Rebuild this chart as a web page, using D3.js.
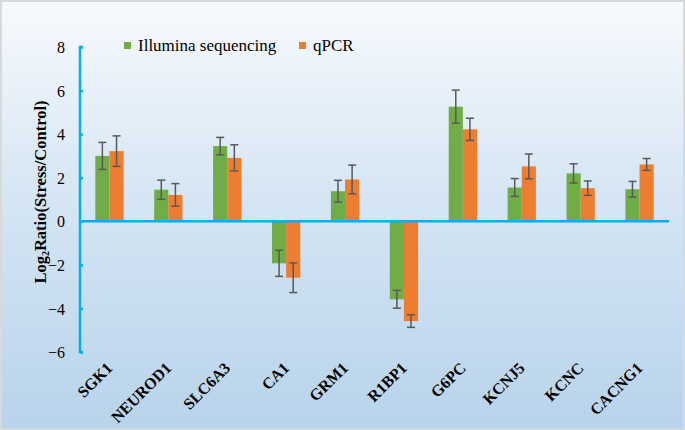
<!DOCTYPE html>
<html><head><meta charset="utf-8">
<script src="https://cdn.jsdelivr.net/npm/d3@7"></script>
<style>html,body{margin:0;padding:0;background:#fff;}</style>
</head><body>
<svg id="c" width="685" height="430"></svg>
<script>
const categories = ["SGK1","NEUROD1","SLC6A3","CA1","GRM1","R1BP1","G6PC","KCNJ5","KCNC","CACNG1"];
const seriesNames = ["Illumina sequencing","qPCR"];
const illumina = [3.0, 1.45, 3.45, -1.93, 1.38, -3.58, 5.26, 1.55, 2.2, 1.47];
const illuminaErr = [0.62, 0.44, 0.4, 0.6, 0.5, 0.41, 0.76, 0.41, 0.44, 0.36];
const qpcr = [3.22, 1.21, 2.91, -2.59, 1.92, -4.58, 4.22, 2.52, 1.52, 2.61];
const qpcrErr = [0.7, 0.52, 0.6, 0.68, 0.66, 0.29, 0.51, 0.57, 0.33, 0.27];
const yTicks = [-6,-4,-2,0,2,4,6,8];

const FONT = "'Liberation Serif', 'Times New Roman', serif";
const colors = ["#70ad47","#ed7d31"];
const svg = d3.select("#c");
const W = 685, H = 430;
const defs = svg.append("defs");
const grad = defs.append("linearGradient").attr("id","bg").attr("x1",0).attr("y1",0).attr("x2",0).attr("y2",1);
grad.append("stop").attr("offset","0%").attr("stop-color","#f7fafd");
grad.append("stop").attr("offset","45%").attr("stop-color","#d6e6f4");
grad.append("stop").attr("offset","100%").attr("stop-color","#b8d3eb");
svg.append("rect").attr("x",1).attr("y",1).attr("width",W-2).attr("height",H-2)
  .attr("fill","url(#bg)").attr("stroke","#d9d9d9").attr("stroke-width",2);

const x0 = d3.scaleBand().domain(categories).range([80,669]).paddingInner(0.52).paddingOuter(0.26);
const x1 = d3.scaleBand().domain(seriesNames).range([0, x0.bandwidth()]);
const y = d3.scaleLinear().domain([-6,8]).range([352,47]);

const data = categories.map((c,i)=>({c, vals:[
  {s:seriesNames[0], v:illumina[i], e:illuminaErr[i]},
  {s:seriesNames[1], v:qpcr[i], e:qpcrErr[i]}]}));

const g = svg.append("g");
const grp = g.selectAll("g.grp").data(data).join("g").attr("transform",d=>`translate(${x0(d.c)},0)`);
grp.selectAll("rect").data(d=>d.vals).join("rect")
  .attr("x",d=>x1(d.s)).attr("width",x1.bandwidth())
  .attr("y",d=>y(Math.max(0,d.v))).attr("height",d=>Math.abs(y(d.v)-y(0)))
  .attr("fill",(d,i)=>colors[i]);
// error bars
const eb = grp.selectAll("g.eb").data(d=>d.vals).join("g").attr("stroke","#595959").attr("stroke-width",1.5);
eb.append("line").attr("x1",d=>x1(d.s)+x1.bandwidth()/2).attr("x2",d=>x1(d.s)+x1.bandwidth()/2)
  .attr("y1",d=>y(d.v+d.e)).attr("y2",d=>y(d.v-d.e));
eb.append("line").attr("x1",d=>x1(d.s)+x1.bandwidth()/2-4).attr("x2",d=>x1(d.s)+x1.bandwidth()/2+4)
  .attr("y1",d=>y(d.v+d.e)).attr("y2",d=>y(d.v+d.e));
eb.append("line").attr("x1",d=>x1(d.s)+x1.bandwidth()/2-4).attr("x2",d=>x1(d.s)+x1.bandwidth()/2+4)
  .attr("y1",d=>y(d.v-d.e)).attr("y2",d=>y(d.v-d.e));

// y axis
const yAxis = d3.axisRight(y).tickValues(yTicks).tickSize(3).tickFormat(d3.format("d"));
const ya = svg.append("g").attr("transform","translate(80,0)").call(yAxis);
ya.select(".domain").attr("stroke","#00b0f0").attr("stroke-width",2.5).attr("d","M3,47H0V352H3");
ya.selectAll(".tick line").attr("stroke","#00b0f0").attr("stroke-width",2.5);
ya.selectAll(".tick text").attr("x",-15).attr("text-anchor","end").attr("dy","0.35em")
  .style("font-family",FONT).attr("font-size",16).attr("fill","#000");

// zero line
svg.append("line").attr("x1",80).attr("x2",669).attr("y1",y(0)).attr("y2",y(0))
  .attr("stroke","#00b0f0").attr("stroke-width",2.5);

// x labels
svg.append("g").selectAll("text").data(categories).join("text")
  .attr("transform",d=>`translate(${x0(d)+x0.bandwidth()/2+4},369) rotate(-45)`)
  .attr("text-anchor","end").style("font-family",FONT)
  .attr("font-weight","bold").attr("font-size",16).attr("fill","#000").text(d=>d);

// y title
const yt = svg.append("text").attr("transform","translate(46,192) rotate(-90)")
  .attr("text-anchor","middle").style("font-family",FONT)
  .attr("font-weight","bold").attr("font-size",16.5).attr("fill","#000");
yt.append("tspan").text("Log");
yt.append("tspan").attr("font-size",10).attr("dy",3).text("2");
yt.append("tspan").attr("dy",-3).text("Ratio(Stress/Control)");

// legend
const legX = [124, 299];
const lg = svg.append("g").selectAll("g").data(seriesNames).join("g").attr("transform",(d,i)=>`translate(${legX[i]},42)`);
lg.append("rect").attr("width",7).attr("height",7).attr("fill",(d,i)=>colors[i]);
lg.append("text").attr("x",14).attr("y",9).style("font-family",FONT)
  .attr("font-size",17).attr("fill","#000").text(d=>d);
</script>
</body></html>
